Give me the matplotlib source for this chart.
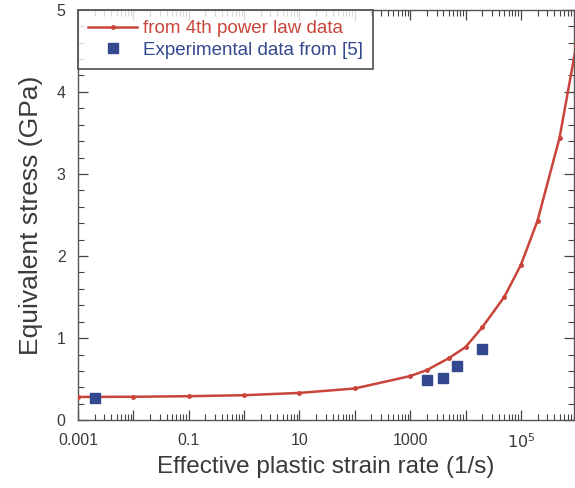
import matplotlib
matplotlib.use('Agg')
import matplotlib.pyplot as plt
from matplotlib.ticker import LogLocator, MultipleLocator, FuncFormatter
import math

plt.rcParams['font.family'] = ['Liberation Sans', 'DejaVu Sans']

# 4th power law curve
rate = [0.001, 0.01, 0.1, 1, 10, 100, 1000, 2000, 5000, 1e4, 2e4, 5e4, 1e5, 2e5, 5e5, 1e6]
stress = [0.283, 0.285, 0.292, 0.304, 0.332, 0.386, 0.537, 0.61, 0.755, 0.89, 1.13,
          1.50, 1.89, 2.43, 3.44, 4.56]

# experimental data from [5]
exp_rate = [0.002, 2000, 4000, 7000, 2e4]
exp_stress = [0.27, 0.49, 0.51, 0.66, 0.865]

red = '#c9443a'
blue = '#33488f'
txt = '#3a3a3a'

fig = plt.figure(figsize=(5.75, 4.88), dpi=100)
ax = fig.add_axes([0.1357, 0.139, 0.862, 0.841])

ax.plot(rate, stress, '-', color=red, lw=1.8, marker='o', ms=2.5,
        label='from 4th power law data', zorder=3)
ax.plot(exp_rate, exp_stress, 's', color=blue, ms=7, ls='none',
        label='Experimental data from [5]', zorder=4)

ax.set_xscale('log')
ax.set_xlim(1e-3, 9e5)
ax.set_ylim(0, 5)

ax.xaxis.set_major_locator(LogLocator(base=10, numticks=20))
ax.xaxis.set_minor_locator(LogLocator(base=10, subs=range(2, 10), numticks=20))
labels = {-3: '0.001', -1: '0.1', 1: '10', 3: '1000', 5: r'$10^5$'}
def fmt(v, pos):
    e = int(round(math.log10(v)))
    return labels.get(e, '')
ax.xaxis.set_major_formatter(FuncFormatter(fmt))

ax.yaxis.set_major_locator(MultipleLocator(1))
ax.yaxis.set_minor_locator(MultipleLocator(0.2))

ax.tick_params(which='both', direction='in', top=True, right=True,
               labelsize=11.5, labelcolor=txt, color='#444444')
ax.tick_params(which='major', length=7, width=0.9, pad=9)
ax.tick_params(which='minor', length=4, width=0.8)
for s in ax.spines.values():
    s.set_color('#555555')
    s.set_linewidth(1.0)

ax.set_xlabel('Effective plastic strain rate (1/s)', fontsize=17.5, color=txt, labelpad=3)
ax.set_ylabel('Equivalent stress (GPa)', fontsize=19, color=txt, labelpad=10)

leg = ax.legend(loc='upper left', bbox_to_anchor=(0.0, 1.0), fontsize=13.5,
                frameon=True, fancybox=False, borderaxespad=0, handlelength=2.6,
                handletextpad=0.3, borderpad=0.55, labelspacing=0.25)
leg.get_frame().set_edgecolor('#333333')
leg.get_frame().set_linewidth(1.3)
leg.get_texts()[0].set_color(red)
leg.get_texts()[1].set_color(blue)

fig.savefig('out.png', dpi=100)
